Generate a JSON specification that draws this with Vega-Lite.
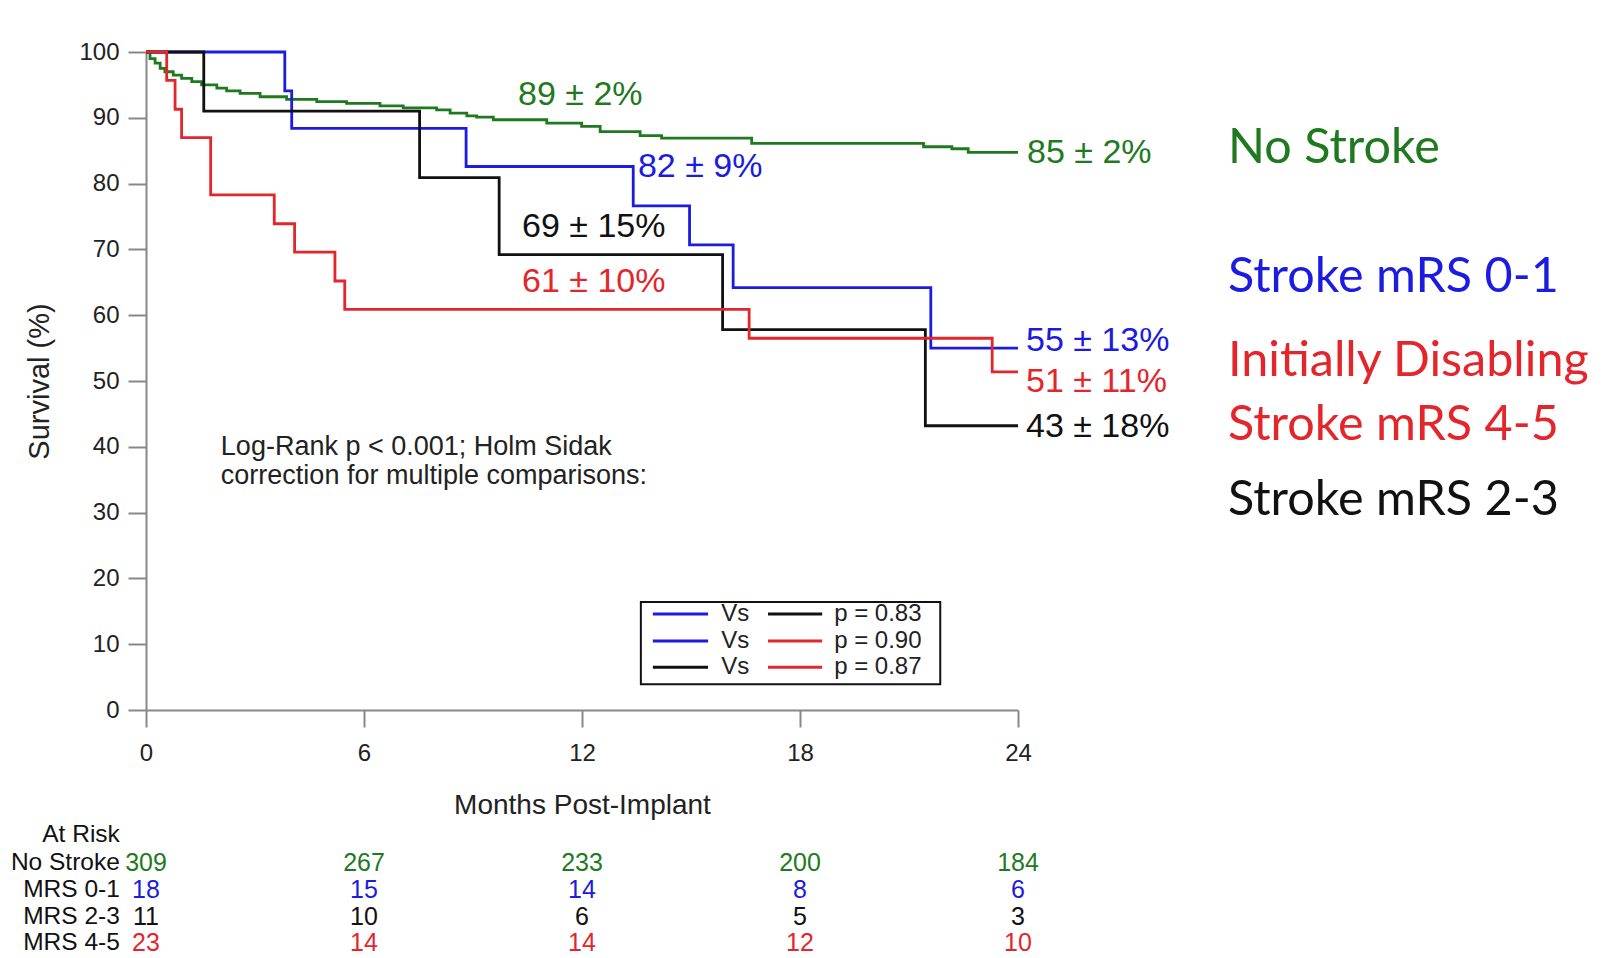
{
  "$schema": "https://vega.github.io/schema/vega-lite/v6.json",
  "autosize": {"type": "none"},
  "width": 872,
  "height": 658,
  "padding": {"left": 146, "top": 52, "right": 587, "bottom": 248},
  "background": "white",
  "config": {"view": {"stroke": null}, "font": "Liberation Sans"},
  "datasets": {
    "curves": [
      {"g": "No Stroke", "t": 0, "s": 100}, {"g": "No Stroke", "t": 0.11, "s": 99.0}, {"g": "No Stroke", "t": 0.25, "s": 98.3},
      {"g": "No Stroke", "t": 0.39, "s": 97.5}, {"g": "No Stroke", "t": 0.52, "s": 97.0}, {"g": "No Stroke", "t": 0.75, "s": 96.5},
      {"g": "No Stroke", "t": 0.98, "s": 96.0}, {"g": "No Stroke", "t": 1.26, "s": 95.5}, {"g": "No Stroke", "t": 1.53, "s": 95.0},
      {"g": "No Stroke", "t": 1.95, "s": 94.5}, {"g": "No Stroke", "t": 2.22, "s": 94.1}, {"g": "No Stroke", "t": 2.59, "s": 93.7},
      {"g": "No Stroke", "t": 3.14, "s": 93.2}, {"g": "No Stroke", "t": 3.87, "s": 92.8}, {"g": "No Stroke", "t": 4.7, "s": 92.45},
      {"g": "No Stroke", "t": 5.52, "s": 92.2}, {"g": "No Stroke", "t": 6.44, "s": 91.8}, {"g": "No Stroke", "t": 7.08, "s": 91.5},
      {"g": "No Stroke", "t": 8.0, "s": 91.2}, {"g": "No Stroke", "t": 8.37, "s": 90.7}, {"g": "No Stroke", "t": 8.83, "s": 90.3},
      {"g": "No Stroke", "t": 9.1, "s": 90.1}, {"g": "No Stroke", "t": 9.56, "s": 89.7}, {"g": "No Stroke", "t": 11.03, "s": 89.2},
      {"g": "No Stroke", "t": 11.99, "s": 88.7}, {"g": "No Stroke", "t": 12.5, "s": 87.9}, {"g": "No Stroke", "t": 13.6, "s": 87.3},
      {"g": "No Stroke", "t": 14.19, "s": 86.9}, {"g": "No Stroke", "t": 16.67, "s": 86.1}, {"g": "No Stroke", "t": 21.4, "s": 85.6},
      {"g": "No Stroke", "t": 22.18, "s": 85.3}, {"g": "No Stroke", "t": 22.63, "s": 84.75}, {"g": "No Stroke", "t": 24, "s": 84.75},
      {"g": "mRS 0-1", "t": 0, "s": 100}, {"g": "mRS 0-1", "t": 3.82, "s": 94.1}, {"g": "mRS 0-1", "t": 4.01, "s": 88.4},
      {"g": "mRS 0-1", "t": 8.81, "s": 82.6}, {"g": "mRS 0-1", "t": 13.41, "s": 76.6}, {"g": "mRS 0-1", "t": 14.96, "s": 70.7},
      {"g": "mRS 0-1", "t": 16.16, "s": 64.2}, {"g": "mRS 0-1", "t": 21.6, "s": 55.0}, {"g": "mRS 0-1", "t": 24, "s": 55.0},
      {"g": "mRS 2-3", "t": 0, "s": 100}, {"g": "mRS 2-3", "t": 1.59, "s": 91.0}, {"g": "mRS 2-3", "t": 7.53, "s": 80.9},
      {"g": "mRS 2-3", "t": 9.72, "s": 69.2}, {"g": "mRS 2-3", "t": 15.87, "s": 57.8}, {"g": "mRS 2-3", "t": 21.45, "s": 43.2},
      {"g": "mRS 2-3", "t": 24, "s": 43.2},
      {"g": "mRS 4-5", "t": 0, "s": 100}, {"g": "mRS 4-5", "t": 0.57, "s": 95.7}, {"g": "mRS 4-5", "t": 0.8, "s": 91.3},
      {"g": "mRS 4-5", "t": 0.98, "s": 87.0}, {"g": "mRS 4-5", "t": 1.78, "s": 78.3}, {"g": "mRS 4-5", "t": 3.53, "s": 73.9},
      {"g": "mRS 4-5", "t": 4.09, "s": 69.6}, {"g": "mRS 4-5", "t": 5.2, "s": 65.2}, {"g": "mRS 4-5", "t": 5.47, "s": 60.9},
      {"g": "mRS 4-5", "t": 16.6, "s": 56.5}, {"g": "mRS 4-5", "t": 23.29, "s": 51.4}, {"g": "mRS 4-5", "t": 24, "s": 51.4}
    ],
    "labels": [
      {"g": "No Stroke", "t": 10.24, "s": 93.5, "txt": "89 ± 2%"},
      {"g": "mRS 0-1", "t": 13.54, "s": 82.5, "txt": "82 ± 9%"},
      {"g": "mRS 2-3", "t": 10.35, "s": 73.4, "txt": "69 ± 15%"},
      {"g": "mRS 4-5", "t": 10.35, "s": 65.0, "txt": "61 ± 10%"},
      {"g": "No Stroke", "t": 24.25, "s": 84.6, "txt": "85 ± 2%"},
      {"g": "mRS 0-1", "t": 24.22, "s": 56.1, "txt": "55 ± 13%"},
      {"g": "mRS 4-5", "t": 24.22, "s": 49.8, "txt": "51 ± 11%"},
      {"g": "mRS 2-3", "t": 24.22, "s": 43.0, "txt": "43 ± 18%"}
    ],
    "side": [
      {"g": "No Stroke", "t": 29.78, "s": 85.4, "txt": "No Stroke"},
      {"g": "mRS 0-1", "t": 29.78, "s": 65.8, "txt": "Stroke mRS 0-1"},
      {"g": "mRS 4-5", "t": 29.78, "s": 53.0, "txt": "Initially Disabling"},
      {"g": "mRS 4-5", "t": 29.78, "s": 43.3, "txt": "Stroke mRS 4-5"},
      {"g": "mRS 2-3", "t": 29.78, "s": 31.9, "txt": "Stroke mRS 2-3"}
    ],
    "note": [
      {"t": 2.06, "s": 40.0, "txt": "Log-Rank p < 0.001; Holm Sidak"},
      {"t": 2.06, "s": 35.6, "txt": "correction for multiple comparisons:"}
    ],
    "box": [{"x1": 13.62, "x2": 21.86, "y1": 16.4, "y2": 3.9}],
    "leglines": [
      {"g": "mRS 0-1", "x1": 13.95, "x2": 15.47, "s": 14.6},
      {"g": "mRS 2-3", "x1": 17.12, "x2": 18.61, "s": 14.6},
      {"g": "mRS 0-1", "x1": 13.95, "x2": 15.47, "s": 10.5},
      {"g": "mRS 4-5", "x1": 17.12, "x2": 18.61, "s": 10.5},
      {"g": "mRS 2-3", "x1": 13.95, "x2": 15.47, "s": 6.5},
      {"g": "mRS 4-5", "x1": 17.12, "x2": 18.61, "s": 6.5}
    ],
    "legtext": [
      {"t": 15.83, "s": 14.6, "txt": "Vs"}, {"t": 18.94, "s": 14.6, "txt": "p = 0.83"},
      {"t": 15.83, "s": 10.5, "txt": "Vs"}, {"t": 18.94, "s": 10.5, "txt": "p = 0.90"},
      {"t": 15.83, "s": 6.5, "txt": "Vs"}, {"t": 18.94, "s": 6.5, "txt": "p = 0.87"}
    ],
    "rowlab": [
      {"t": -0.72, "s": -19.0, "txt": "At Risk"},
      {"t": -0.72, "s": -23.25, "txt": "No Stroke"},
      {"t": -0.72, "s": -27.36, "txt": "MRS 0-1"},
      {"t": -0.72, "s": -31.46, "txt": "MRS 2-3"},
      {"t": -0.72, "s": -35.4, "txt": "MRS 4-5"}
    ],
    "risk": [
      {"g": "No Stroke", "s": -23.25, "t": 0, "n": 309}, {"g": "No Stroke", "s": -23.25, "t": 6, "n": 267},
      {"g": "No Stroke", "s": -23.25, "t": 12, "n": 233}, {"g": "No Stroke", "s": -23.25, "t": 18, "n": 200},
      {"g": "No Stroke", "s": -23.25, "t": 24, "n": 184},
      {"g": "mRS 0-1", "s": -27.36, "t": 0, "n": 18}, {"g": "mRS 0-1", "s": -27.36, "t": 6, "n": 15},
      {"g": "mRS 0-1", "s": -27.36, "t": 12, "n": 14}, {"g": "mRS 0-1", "s": -27.36, "t": 18, "n": 8},
      {"g": "mRS 0-1", "s": -27.36, "t": 24, "n": 6},
      {"g": "mRS 2-3", "s": -31.46, "t": 0, "n": 11}, {"g": "mRS 2-3", "s": -31.46, "t": 6, "n": 10},
      {"g": "mRS 2-3", "s": -31.46, "t": 12, "n": 6}, {"g": "mRS 2-3", "s": -31.46, "t": 18, "n": 5},
      {"g": "mRS 2-3", "s": -31.46, "t": 24, "n": 3},
      {"g": "mRS 4-5", "s": -35.4, "t": 0, "n": 23}, {"g": "mRS 4-5", "s": -35.4, "t": 6, "n": 14},
      {"g": "mRS 4-5", "s": -35.4, "t": 12, "n": 14}, {"g": "mRS 4-5", "s": -35.4, "t": 18, "n": 12},
      {"g": "mRS 4-5", "s": -35.4, "t": 24, "n": 10}
    ]
  },
  "layer": [
    {
      "data": {"name": "box"},
      "mark": {"type": "rect", "fill": "white", "stroke": "#111", "strokeWidth": 2},
      "encoding": {
        "x": {"field": "x1", "type": "quantitative", "scale": {"domain": [0, 24], "nice": false, "zero": false}},
        "x2": {"field": "x2"},
        "y": {"field": "y1", "type": "quantitative", "scale": {"domain": [0, 100], "nice": false, "zero": false}},
        "y2": {"field": "y2"}
      }
    },
    {
      "data": {"name": "curves"},
      "mark": {"type": "line", "interpolate": "step-after", "strokeWidth": 2.8},
      "encoding": {
        "x": {"field": "t", "type": "quantitative",
          "axis": {"values": [0, 6, 12, 18, 24], "title": "Months Post-Implant", "grid": false,
            "domainColor": "#888", "domainWidth": 2, "tickColor": "#888", "tickWidth": 2, "tickSize": 17,
            "labelFontSize": 24, "labelColor": "#222", "labelPadding": 14, "labelFlush": false,
            "titleFontSize": 28, "titleFontWeight": "normal", "titleColor": "#222", "titlePadding": 26}},
        "y": {"field": "s", "type": "quantitative",
          "axis": {"values": [0, 10, 20, 30, 40, 50, 60, 70, 80, 90, 100], "title": "Survival (%)", "grid": false,
            "domainColor": "#888", "domainWidth": 2, "tickColor": "#888", "tickWidth": 2, "tickSize": 18,
            "labelFontSize": 24, "labelColor": "#222", "labelPadding": 9, "labelFlush": false,
            "titleFontSize": 29, "titleFontWeight": "normal", "titleColor": "#222", "titlePadding": 24}},
        "color": {"field": "g", "type": "nominal",
          "scale": {"domain": ["No Stroke", "mRS 0-1", "mRS 2-3", "mRS 4-5"], "range": ["#1f7a1f", "#1c1ce0", "#111111", "#e3262b"]},
          "legend": null}
      }
    },
    {
      "data": {"name": "labels"},
      "mark": {"type": "text", "align": "left", "baseline": "middle", "fontSize": 34},
      "encoding": {
        "x": {"field": "t", "type": "quantitative"},
        "y": {"field": "s", "type": "quantitative"},
        "text": {"field": "txt"},
        "color": {"field": "g", "type": "nominal", "legend": null}
      }
    },
    {
      "data": {"name": "side"},
      "mark": {"type": "text", "align": "left", "baseline": "middle", "fontSize": 48.5, "font": "Lato"},
      "encoding": {
        "x": {"field": "t", "type": "quantitative"},
        "y": {"field": "s", "type": "quantitative"},
        "text": {"field": "txt"},
        "color": {"field": "g", "type": "nominal", "legend": null}
      }
    },
    {
      "data": {"name": "note"},
      "mark": {"type": "text", "align": "left", "baseline": "middle", "fontSize": 27, "color": "#222"},
      "encoding": {
        "x": {"field": "t", "type": "quantitative"},
        "y": {"field": "s", "type": "quantitative"},
        "text": {"field": "txt"}
      }
    },
    {
      "data": {"name": "leglines"},
      "mark": {"type": "rule", "strokeWidth": 3},
      "encoding": {
        "x": {"field": "x1", "type": "quantitative"},
        "x2": {"field": "x2"},
        "y": {"field": "s", "type": "quantitative"},
        "color": {"field": "g", "type": "nominal", "legend": null}
      }
    },
    {
      "data": {"name": "legtext"},
      "mark": {"type": "text", "align": "left", "baseline": "middle", "fontSize": 24, "color": "#222"},
      "encoding": {
        "x": {"field": "t", "type": "quantitative"},
        "y": {"field": "s", "type": "quantitative"},
        "text": {"field": "txt"}
      }
    },
    {
      "data": {"name": "rowlab"},
      "mark": {"type": "text", "align": "right", "baseline": "middle", "fontSize": 24.5, "color": "#111"},
      "encoding": {
        "x": {"field": "t", "type": "quantitative"},
        "y": {"field": "s", "type": "quantitative"},
        "text": {"field": "txt"}
      }
    },
    {
      "data": {"name": "risk"},
      "mark": {"type": "text", "align": "center", "baseline": "middle", "fontSize": 25},
      "encoding": {
        "x": {"field": "t", "type": "quantitative"},
        "y": {"field": "s", "type": "quantitative"},
        "text": {"field": "n", "type": "quantitative"},
        "color": {"field": "g", "type": "nominal", "legend": null}
      }
    }
  ]
}
